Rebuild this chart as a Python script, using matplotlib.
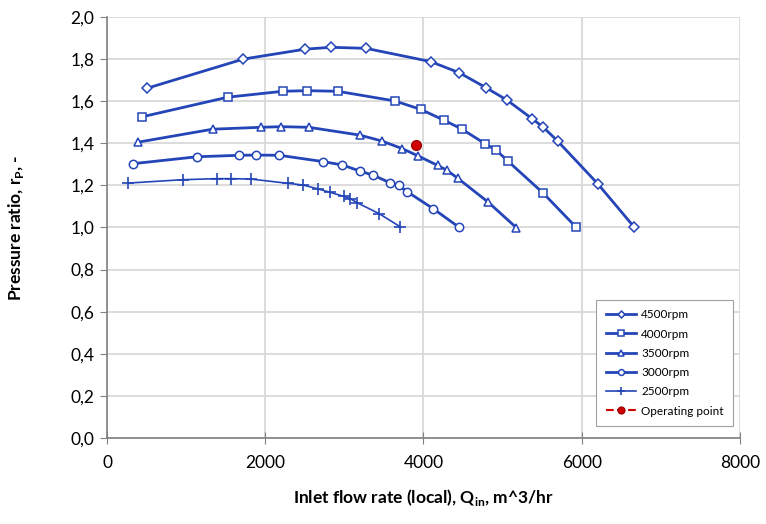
import numpy as np
import matplotlib
matplotlib.use("Agg")
import matplotlib.pyplot as plt
from matplotlib.ticker import FuncFormatter, MultipleLocator

plt.rcParams['font.family'] = ['Lato', 'DejaVu Sans']
plt.rcParams['mathtext.fontset'] = 'custom'
plt.rcParams['mathtext.rm'] = 'Lato'
plt.rcParams['mathtext.bf'] = 'Lato:bold'

# 4500 rpm
q_4500 = [502, 1723, 2503, 2831, 3274, 4092, 4453, 4791, 5052, 5372, 5515, 5697, 6202, 6665]
p_4500 = [1.661, 1.800, 1.847, 1.856, 1.851, 1.788, 1.735, 1.664, 1.606, 1.517, 1.476, 1.410, 1.208, 1.001]
# 4000 rpm
q_4000 = [446, 1526, 2221, 2524, 2916, 3640, 3965, 4263, 4487, 4778, 4917, 5065, 5511, 5932]
p_4000 = [1.526, 1.619, 1.647, 1.650, 1.647, 1.601, 1.561, 1.509, 1.467, 1.398, 1.368, 1.316, 1.164, 1.000]
# 3500 rpm
q_3500 = [388, 1336, 1947, 2199, 2550, 3194, 3472, 3729, 3927, 4178, 4295, 4433, 4816, 5174]
p_3500 = [1.405, 1.467, 1.476, 1.479, 1.476, 1.439, 1.411, 1.375, 1.341, 1.295, 1.272, 1.234, 1.121, 0.999]
# 3000 rpm
q_3000 = [325, 1138, 1672, 1883, 2178, 2730, 2974, 3198, 3366, 3581, 3685, 3794, 4124, 4446]
p_3000 = [1.303, 1.336, 1.343, 1.344, 1.343, 1.313, 1.297, 1.268, 1.248, 1.212, 1.200, 1.170, 1.089, 1.002]
# 2500 rpm
q_2500 = [269, 957, 1390, 1567, 1820, 2284, 2474, 2671, 2819, 2992, 3075, 3160, 3438, 3704]
p_2500 = [1.211, 1.227, 1.232, 1.232, 1.230, 1.210, 1.202, 1.183, 1.167, 1.148, 1.137, 1.118, 1.066, 1.004]
# operating point
q_op = [3902]
p_op = [1.391]

blue = '#2445b8'

fig = plt.figure(figsize=(7.66, 5.24), dpi=100)
ax = fig.add_axes([0.1397, 0.1641, 0.8263, 0.8035])

kw = dict(color=blue, lw=2, mfc='white', mec=blue, mew=1.1)
ax.plot(q_4500, p_4500, marker='D', ms=5, label='4500rpm', **kw)
ax.plot(q_4000, p_4000, marker='s', ms=5.5, label='4000rpm', **kw)
ax.plot(q_3500, p_3500, marker='^', ms=6, label='3500rpm', **kw)
ax.plot(q_3000, p_3000, marker='o', ms=6, label='3000rpm', **kw)
ax.plot(q_2500, p_2500, marker='+', ms=8, color=blue, lw=1.2, mew=1.2, label='2500rpm')
ax.plot(q_op, p_op, marker='o', ms=7, color='#d00000', mec='#a00000', ls='--', label='Operating point')

ax.set_xlim(0, 8000)
ax.set_ylim(0, 2.0)
ax.xaxis.set_major_locator(MultipleLocator(2000))
ax.yaxis.set_major_locator(MultipleLocator(0.2))
ax.yaxis.set_major_formatter(FuncFormatter(lambda v, p: f"{v:.1f}".replace('.', ',')))
ax.grid(True, color='#d9d9d9', lw=1.3)
ax.set_axisbelow(True)
for s in ['top', 'right']:
    ax.spines[s].set_visible(False)
for s in ['left', 'bottom']:
    ax.spines[s].set_color('#808080')
    ax.spines[s].set_linewidth(1.2)
ax.tick_params(axis='x', direction='inout', length=8, color='#808080', labelsize=12.5, pad=8)
ax.tick_params(axis='y', direction='out', length=5, color='#808080', labelsize=12.5, pad=4)

ax.set_xlabel(r'Inlet flow rate (local), Q$_\mathbf{in}$, m^3/hr', fontsize=12.5, fontweight='bold', labelpad=12)
ax.set_ylabel(r'Pressure ratio, r$_\mathbf{P}$, -', fontsize=12.5, fontweight='bold', labelpad=32)

leg = ax.legend(loc='lower right', bbox_to_anchor=(0.989, 0.0285), fontsize=8.5,
                fancybox=False, edgecolor='#a0a0a0', framealpha=1, handlelength=2.6,
                markerscale=0.7, labelspacing=0.7, borderpad=0.8, handletextpad=0.4,
                borderaxespad=0)
leg.get_frame().set_linewidth(0.8)

fig.savefig('out.png', dpi=100)
